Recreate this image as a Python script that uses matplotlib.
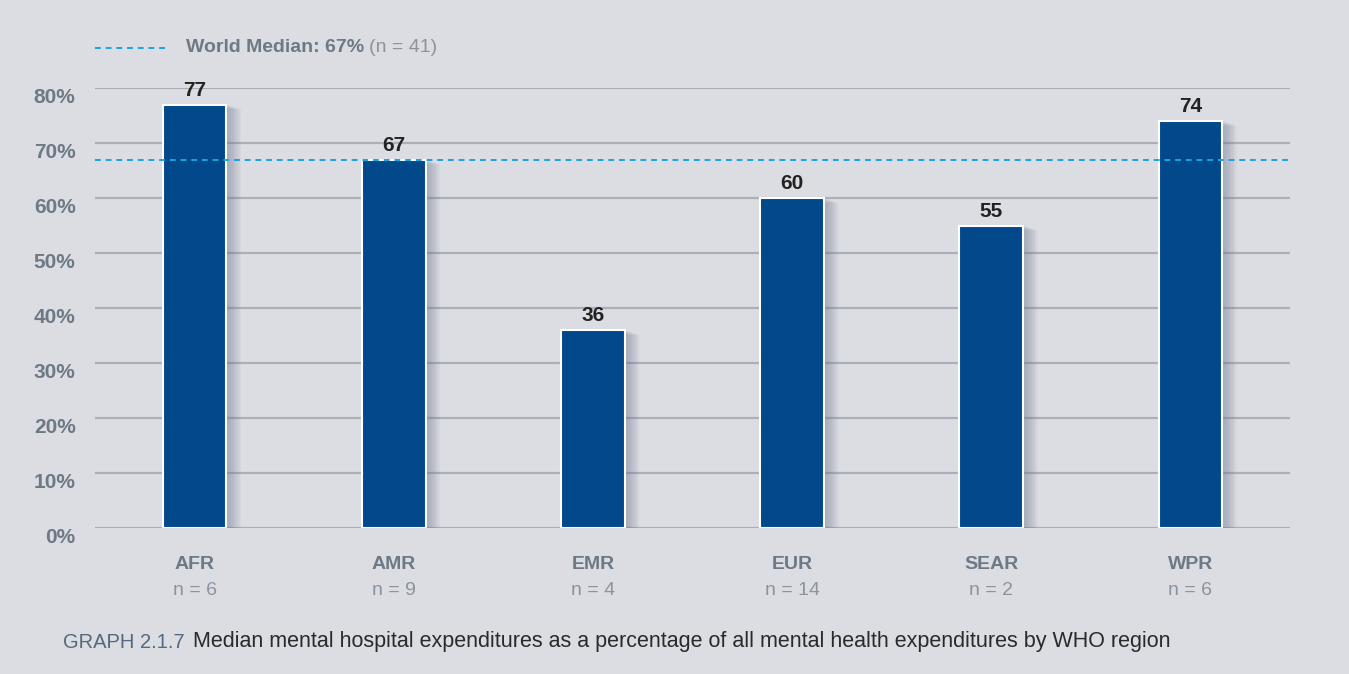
import matplotlib
matplotlib.use("Agg")
import matplotlib.pyplot as plt

# data
regions = ["AFR", "AMR", "EMR", "EUR", "SEAR", "WPR"]
counts = [6, 9, 4, 14, 2, 6]
values = [77, 67, 36, 60, 55, 74]
world_median = 67
world_n = 41
yticks = [0, 10, 20, 30, 40, 50, 60, 70, 80]

plt.rcParams["font.family"] = ["Liberation Sans", "DejaVu Sans"]

bg = "#dcdde2"
gray = "#6e7986"
light = "#8a94a0"
bar_col = "#02498c"
grid_col = "#a9b0b8"
med_col = "#1aa3e0"

fig = plt.figure(figsize=(13.49, 6.74), dpi=100, facecolor=bg)
ax = fig.add_axes([0.0704, 0.2166, 0.8859, 0.6528])
ax.set_facecolor(bg)

x = list(range(len(regions)))
w = 0.32

# soft shadow to the right of each bar
for k in range(10):
    ax.bar([i + 0.01 + k * 0.007 for i in x], [v - 0.1 * k for v in values], width=w,
           color="#6f7890", alpha=0.06, linewidth=0, zorder=2)

ax.bar(x, values, width=w, color=bar_col, edgecolor="white", linewidth=1.5, zorder=3)

for i, v in zip(x, values):
    ax.text(i, v + 0.9, str(v), ha="center", va="bottom", fontsize=15,
            fontweight="bold", color="#222222", zorder=5, clip_on=False)

for t in yticks:
    ax.axhline(t, color=grid_col, linewidth=1.6, zorder=1)
ax.axhline(world_median, color=med_col, linewidth=1.4, linestyle=(0, (3, 2.5)), zorder=4)

ax.set_xlim(-0.5, len(regions) - 0.5)
ax.set_ylim(0, 80)
for s in ax.spines.values():
    s.set_visible(False)
ax.set_yticks(yticks)
ax.set_yticklabels([f"{t}%" for t in yticks], fontsize=15, fontweight="bold", color=gray)
ax.tick_params(axis="y", length=0, pad=14)
for lab in ax.get_yticklabels():
    lab.set_verticalalignment("top")
ax.tick_params(axis="x", length=0)
ax.set_xticks(x)
ax.set_xticklabels([])

for i, r, n in zip(x, regions, counts):
    ax.annotate(r, (i, 0), xytext=(0, -26), textcoords="offset points", ha="center",
                va="center", fontsize=14, fontweight="bold", color=gray)
    ax.annotate(f"n = {n}", (i, 0), xytext=(0, -45), textcoords="offset points",
                ha="center", va="center", fontsize=14, color=light)

# legend at the top
fig.add_artist(plt.Line2D([95 / 1349, 170 / 1349], [1 - 48 / 674, 1 - 48 / 674],
                          color=med_col, linewidth=1.4, linestyle=(0, (3, 2.5))))
t1 = fig.text(186 / 1349, 1 - 48 / 674, f"World Median: {world_median}%", fontsize=14,
              fontweight="bold", color=gray, va="center")
fig.canvas.draw()
r = fig.canvas.get_renderer()
bb = t1.get_window_extent(r)
fig.text((bb.x1 + 5) / 1349, 1 - 48 / 674, f"(n = {world_n})", fontsize=14,
         color=light, va="center")

# caption
c1 = fig.text(63 / 1349, 1 - 642 / 674, "GRAPH 2.1.7", fontsize=14.5, color="#56697e", va="center")
bb = c1.get_window_extent(r)
fig.text((bb.x1 + 8) / 1349, 1 - 642 / 674,
         "Median mental hospital expenditures as a percentage of all mental health expenditures by WHO region",
         fontsize=15.5, color="#2a2a2a", va="center")

fig.savefig("out.png", dpi=100, facecolor=bg)
